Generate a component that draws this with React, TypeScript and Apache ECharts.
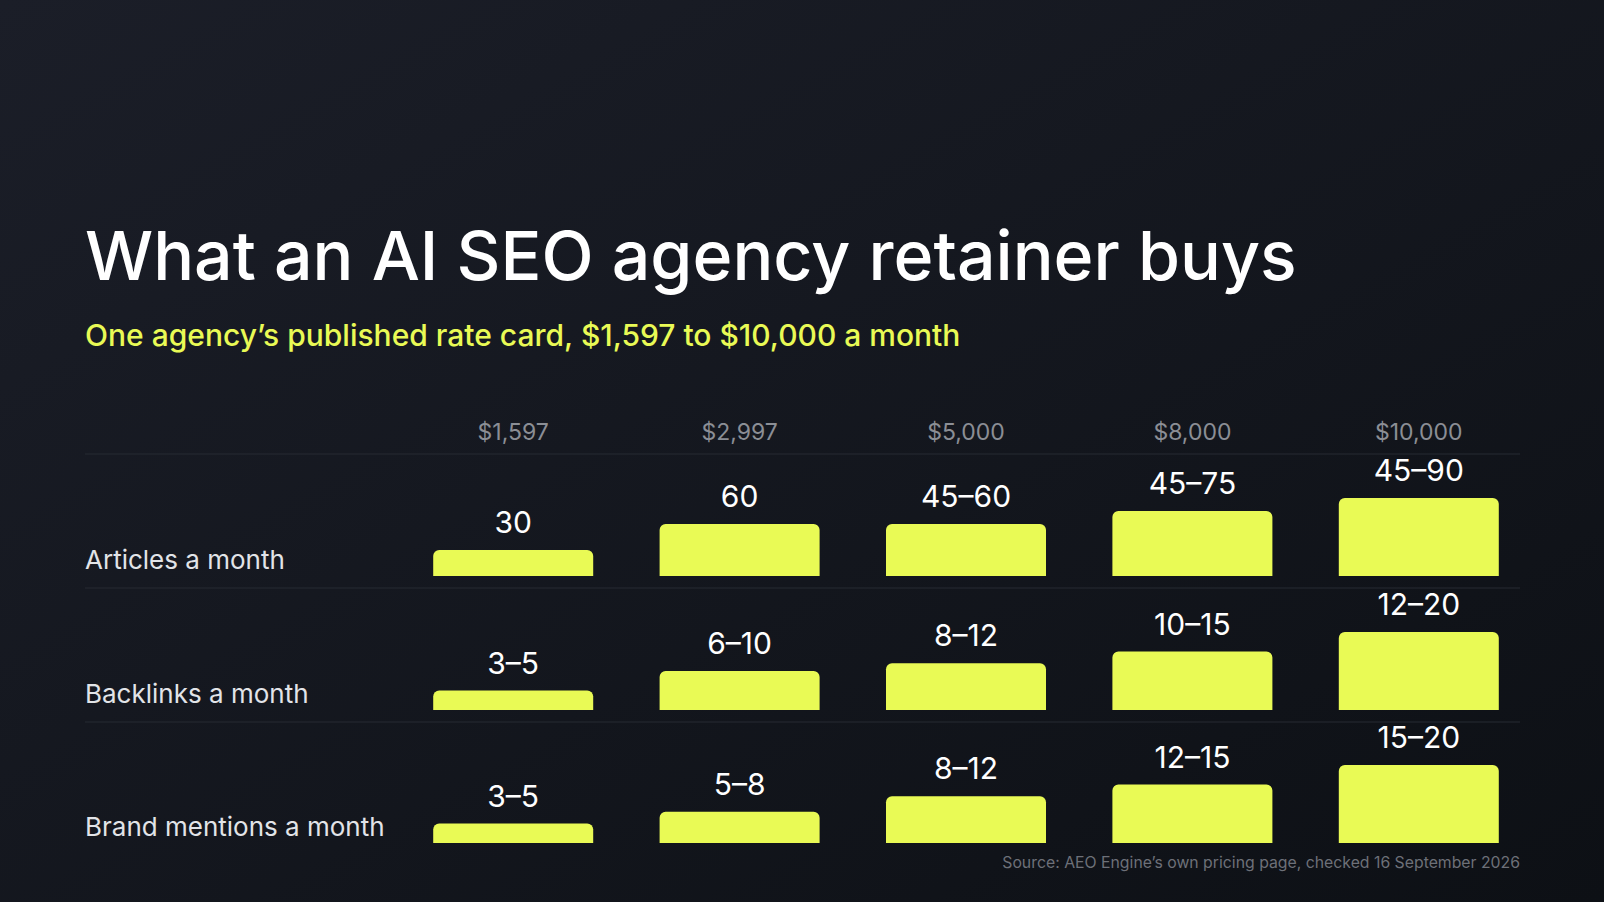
import { useEffect, useRef } from 'react';
import * as echarts from 'echarts';

const tiers = ['$1,597', '$2,997', '$5,000', '$8,000', '$10,000'];
const rowNames = ['Articles a month', 'Backlinks a month', 'Brand mentions a month'];

// low and high end of each monthly range, per tier
const articlesLow = [30, 60, 45, 45, 45];
const articlesHigh = [30, 60, 60, 75, 90];
const backlinksLow = [3, 6, 8, 10, 12];
const backlinksHigh = [5, 10, 12, 15, 20];
const mentionsLow = [3, 5, 8, 12, 15];
const mentionsHigh = [5, 8, 12, 15, 20];

const rowLows = [articlesLow, backlinksLow, mentionsLow];
const rowHighs = [articlesHigh, backlinksHigh, mentionsHigh];

const TITLE = 'What an AI SEO agency retainer buys';
const SUBTITLE = 'One agency\u2019s published rate card, $1,597 to $10,000 a month';
const SOURCE = 'Source: AEO Engine\u2019s own pricing page, checked 16 September 2026';

const FONT = 'Inter, "Noto Sans", sans-serif';
const LIME = '#e9fa55';
const ROW_BOTTOMS = [576, 710, 843];
const BAR_AREA = 78;

function rangeLabel(low: number, high: number) {
  return low === high ? `${high}` : `${low}\u2013${high}`;
}

export default function App() {
  const chartRef = useRef<HTMLDivElement>(null);

  useEffect(() => {
    if (!chartRef.current) return;
    const chart = echarts.init(chartRef.current, undefined, { renderer: 'svg' });

    const grids = ROW_BOTTOMS.map((bottom) => ({
      left: 400,
      width: 1132,
      top: bottom - BAR_AREA,
      height: BAR_AREA,
    }));

    const xAxes = ROW_BOTTOMS.map((_, i) => ({
      type: 'category' as const,
      gridIndex: i,
      data: tiers,
      position: 'top' as const,
      axisLine: { show: false },
      axisTick: { show: false },
      axisLabel: {
        show: i === 0,
        margin: 55,
        color: '#8b8e95',
        fontFamily: FONT,
        fontSize: 23,
      },
    }));

    const yAxes = ROW_BOTTOMS.map((_, i) => ({
      type: 'value' as const,
      gridIndex: i,
      min: 0,
      max: Math.max(...rowHighs[i]),
      show: false,
    }));

    const series = rowHighs.map((highs, i) => ({
      type: 'bar' as const,
      xAxisIndex: i,
      yAxisIndex: i,
      data: highs,
      barWidth: 160,
      itemStyle: { color: LIME, borderRadius: [6, 6, 0, 0] },
      label: {
        show: true,
        position: 'top' as const,
        distance: 13,
        color: '#ffffff',
        fontFamily: FONT,
        fontSize: 30,
        formatter: (p: { dataIndex: number }) => rangeLabel(rowLows[i][p.dataIndex], highs[p.dataIndex]),
      },
    }));

    const separators = [454, 588, 722].map((y) => ({
      type: 'line' as const,
      shape: { x1: 85, y1: y, x2: 1520, y2: y },
      style: { stroke: '#262a33', lineWidth: 1 },
    }));

    const rowLabels = rowNames.map((name, i) => ({
      type: 'text' as const,
      x: 85,
      y: ROW_BOTTOMS[i] - 17,
      style: {
        text: name,
        fill: '#e2e4e8',
        font: `400 26px ${FONT}`,
        verticalAlign: 'middle',
      },
    }));

    chart.setOption({
      animation: false,
      backgroundColor: {
        type: 'linear',
        x: 0,
        y: 0,
        x2: 1,
        y2: 1,
        colorStops: [
          { offset: 0, color: '#1b1e28' },
          { offset: 1, color: '#0d1015' },
        ],
      },
      grid: grids,
      xAxis: xAxes,
      yAxis: yAxes,
      series,
      graphic: [
        {
          type: 'text',
          x: 85,
          y: 255,
          style: { text: TITLE, fill: '#ffffff', font: `500 68px ${FONT}`, verticalAlign: 'middle' },
        },
        {
          type: 'text',
          x: 85,
          y: 335,
          style: { text: SUBTITLE, fill: LIME, font: `500 30px ${FONT}`, verticalAlign: 'middle' },
        },
        ...separators,
        ...rowLabels,
        {
          type: 'text',
          x: 1520,
          y: 862,
          style: {
            text: SOURCE,
            fill: '#6d7078',
            font: `400 15.8px ${FONT}`,
            align: 'right',
            verticalAlign: 'middle',
          },
        },
      ],
    });

    return () => chart.dispose();
  }, []);

  return (
    <div
      ref={chartRef}
      style={{ position: 'fixed', left: 0, top: 0, width: 1604, height: 902 }}
    />
  );
}
